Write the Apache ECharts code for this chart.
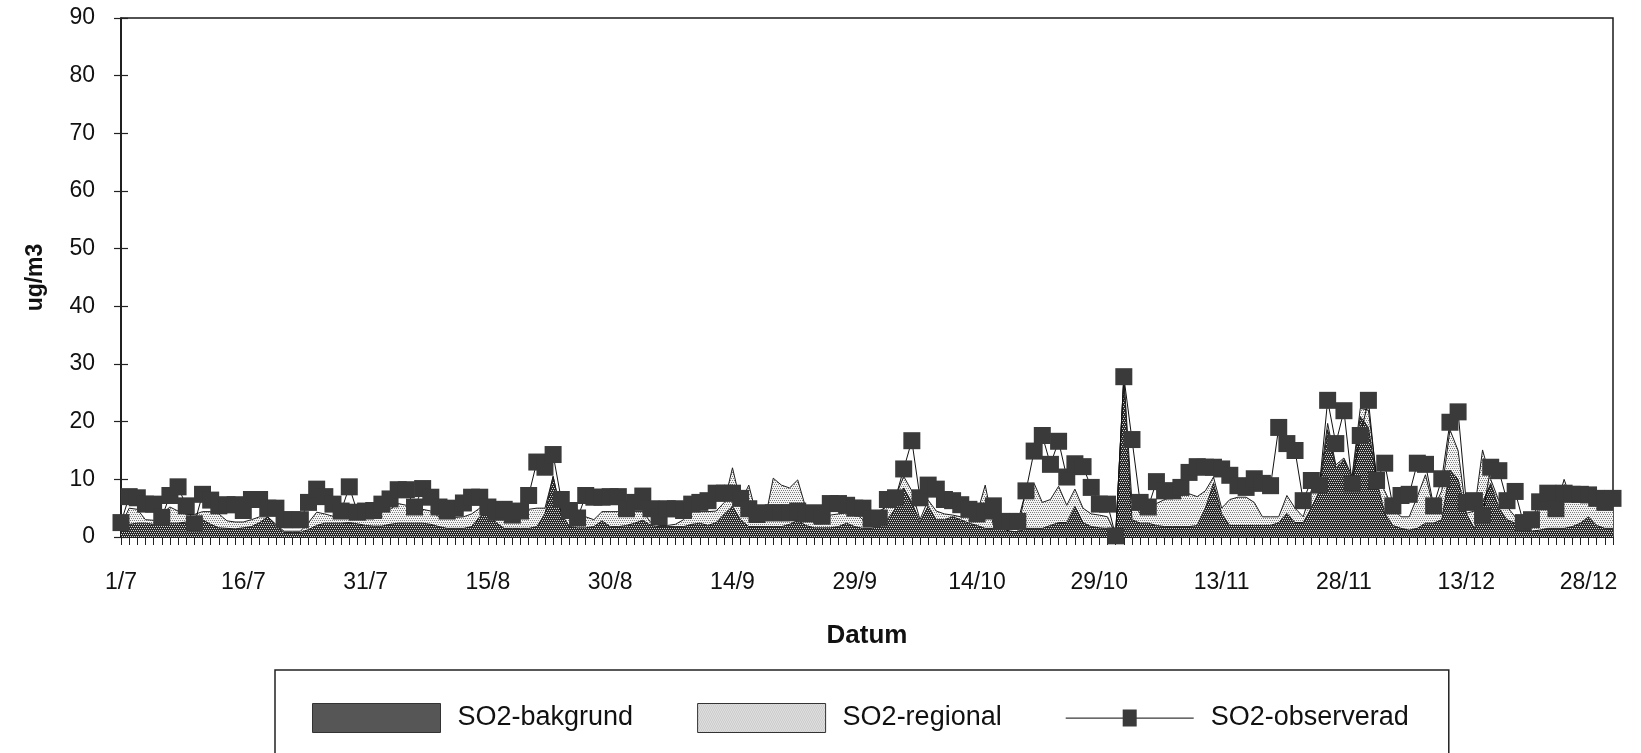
<!DOCTYPE html>
<html>
<head>
<meta charset="utf-8">
<script src="https://cdn.jsdelivr.net/npm/echarts@6/dist/echarts.min.js"></script>
<style>
html,body{margin:0;padding:0;background:#fff;}
#chart{width:1641px;height:753px;}
</style>
</head>
<body>
<div id="chart"></div>
<script>
// ---- data ----
var monthLengths = [[7,31],[8,31],[9,30],[10,31],[11,30],[12,31]];
var categories = [];
monthLengths.forEach(function(m){ for (var d = 1; d <= m[1]; d++) categories.push(d + '/' + m[0]); });

var bakgrund = [
1.5,2.2,2.4,2.4,2.2,2.2,2.4,2.4,2.6,3.5,
3.0,2.2,1.6,1.5,1.4,1.6,1.8,2.5,3.5,2.0,
0.8,0.8,0.8,1.3,2.0,2.4,2.4,2.4,2.5,2.3,
2.0,1.9,1.9,2.2,2.4,2.4,2.4,2.4,2.2,1.8,
1.5,1.5,1.5,1.8,3.5,4.7,2.5,1.5,1.5,1.5,
1.5,1.8,4.0,10.5,4.0,1.8,1.6,1.6,1.8,2.8,
1.8,1.8,2.0,2.4,2.9,2.0,1.8,1.8,1.8,1.8,
2.2,2.4,2.0,2.5,4.0,5.3,3.0,1.8,1.8,1.8,
1.8,1.8,2.2,2.9,2.0,1.6,1.6,1.6,1.8,2.4,
1.8,1.5,1.5,1.8,3.0,5.0,8.5,6.0,2.5,5.3,
3.0,3.0,3.5,3.0,2.4,2.0,1.5,1.5,1.5,1.0,
0.9,1.5,1.5,1.5,2.0,2.5,2.5,5.3,2.5,1.8,
1.6,1.5,0.5,27.5,3.0,2.4,2.4,2.0,1.8,1.8,
1.8,1.8,2.0,5.0,9.3,4.0,2.0,2.0,2.0,2.0,
2.0,2.0,2.5,4.1,2.5,2.5,5.0,8.0,18.6,12.0,
13.4,10.0,20.9,19.0,9.9,4.1,2.0,1.5,1.2,1.5,
2.4,2.4,3.0,11.6,10.0,4.0,1.5,6.0,9.3,5.0,
3.0,2.4,1.2,1.0,1.2,1.5,1.5,1.5,1.8,2.4,
3.5,2.0,1.5,1.5
];

var regional = [
0.5,2.8,2.4,0.6,0.7,1.8,2.8,2.1,1.3,0.4,
1.4,2.2,2.4,1.3,1.2,1.0,1.2,1.0,0.0,0.2,
0.2,0.2,0.2,1.2,2.3,1.6,1.2,0.8,2.0,1.5,
1.5,2.5,2.5,2.6,3.4,3.1,2.6,2.4,2.3,1.7,
1.9,1.9,2.0,2.2,1.5,0.1,0.7,1.5,1.8,2.5,
3.3,3.2,1.0,0.0,0.2,1.7,1.7,1.9,1.2,1.6,
2.6,2.6,2.2,2.0,1.5,0.5,0.2,0.2,0.4,1.2,
2.4,2.0,2.4,2.0,2.0,6.7,3.0,7.2,1.7,1.2,
8.4,7.2,6.3,7.0,3.0,0.7,0.7,2.2,2.2,1.8,
2.4,1.5,1.5,2.7,2.3,2.0,2.0,2.0,0.5,1.1,
1.5,1.0,0.3,0.5,1.1,2.0,7.5,0.5,0.3,0.0,
0.0,7.0,7.8,4.5,4.5,6.3,3.0,3.0,2.5,2.2,
2.2,2.0,0.0,0.3,3.0,1.7,1.7,3.8,4.7,5.2,
5.4,5.7,5.0,3.0,1.1,1.0,4.5,4.9,4.9,4.0,
1.5,1.5,1.0,3.1,2.5,1.0,3.1,1.0,1.1,0.5,
0.3,0.5,1.4,3.0,0.6,3.9,3.0,2.0,2.3,5.5,
8.4,2.6,5.0,7.0,5.0,0.1,3.0,9.1,0.7,1.3,
2.3,1.1,0.6,1.0,4.1,3.8,3.5,8.5,4.2,4.1,
2.5,3.5,4.5,4.0
];

var observerad = [
2.5,7.0,6.8,5.7,5.7,3.4,7.2,8.7,5.4,2.3,
7.4,6.4,5.4,5.6,5.6,4.6,6.5,6.5,5.0,5.0,
3.0,3.0,3.0,6.0,8.3,7.0,5.7,4.5,8.7,4.3,
4.5,4.6,5.7,6.6,8.2,8.2,5.2,8.4,6.9,5.2,
4.5,5.0,5.9,6.9,6.9,5.2,4.3,4.8,3.8,4.5,
7.2,13.0,12.1,14.3,6.5,4.6,3.3,7.2,6.9,6.9,
7.0,7.0,4.9,6.0,7.1,4.9,3.5,4.9,4.9,4.6,
5.7,6.0,6.3,7.6,7.6,7.6,6.7,4.9,3.9,4.2,
4.2,4.2,4.2,4.5,4.0,4.2,3.6,5.8,5.8,5.5,
5.0,5.0,3.1,3.3,6.5,6.8,11.8,16.7,6.8,9.0,
8.3,6.5,6.3,5.6,4.8,4.0,4.5,5.4,2.7,2.7,
2.7,8.0,14.9,17.6,12.6,16.6,10.4,12.7,12.2,8.6,
5.7,5.7,0.2,27.8,16.9,6.0,5.2,9.6,8.0,8.0,
8.6,11.2,12.2,12.1,12.1,11.8,10.7,8.9,8.6,10.1,
9.3,8.9,19.0,16.2,15.0,6.3,9.8,9.0,23.7,16.2,
21.9,9.2,17.6,23.7,9.8,12.8,5.4,7.2,7.4,12.8,
12.6,5.4,10.1,19.9,21.7,6.0,6.3,3.7,12.1,11.5,
6.3,7.9,2.5,3.0,6.1,7.6,4.9,7.6,7.4,7.4,
7.3,6.7,6.0,6.7
];

var seriesNames = ['SO2-bakgrund', 'SO2-regional', 'SO2-observerad'];

// ---- styles ----
function makePattern(bg, fg, cells) {
  var c = document.createElement('canvas');
  c.width = 4; c.height = 4;
  var ctx = c.getContext('2d');
  ctx.fillStyle = bg; ctx.fillRect(0, 0, 4, 4);
  ctx.fillStyle = fg;
  cells.forEach(function(p){ ctx.fillRect(p[0], p[1], 1, 1); });
  return { image: c, repeat: 'repeat' };
}
var darkPattern = makePattern('#2c2c2c', '#d6d6d6', [[0,0],[2,0],[1,2],[3,2]]);
var lightPattern = makePattern('#f4f4f4', '#7c7c7c', [[0,0],[2,0],[1,2],[3,2]]);
var FONT = '"Liberation Sans", Arial, Helvetica, sans-serif';

var chart = echarts.init(document.getElementById('chart'), null, { renderer: 'canvas' });
chart.setOption({
  animation: false,
  backgroundColor: '#ffffff',
  grid: { left: 121, right: 28, top: 18, bottom: 216, show: true, borderColor: '#1a1a1a', borderWidth: 1.5, backgroundColor: 'transparent' },
  legend: {
    left: 275, top: 670, orient: 'horizontal',
    padding: [33, 40, 40, 37],
    itemGap: 64, itemWidth: 128, itemHeight: 29,
    borderColor: '#222', borderWidth: 1.5,
    selectedMode: false,
    textStyle: { fontSize: 27, color: '#111', fontFamily: FONT, padding: [0, 0, 0, 12] },
    data: [
      { name: seriesNames[0], icon: 'rect', itemStyle: { color: darkPattern, borderColor: '#333', borderWidth: 1 } },
      { name: seriesNames[1], icon: 'rect', itemStyle: { color: lightPattern, borderColor: '#333', borderWidth: 1 } },
      { name: seriesNames[2], icon: 'path://M0,0h0.01v0.01h-0.01z M0,28.99h0.01v0.01h-0.01z M0,14h57v1.3H0z M57,6h14v17H57z M71,14h57v1.3H71z', itemStyle: { color: '#3a3a3a' } }
    ]
  },
  xAxis: {
    type: 'category', data: categories, boundaryGap: false,
    axisLine: { lineStyle: { color: '#111', width: 1.5 } },
    axisTick: { show: true, interval: 0, length: 8, lineStyle: { color: '#222', width: 1 } },
    axisLabel: { interval: 14, margin: 34, fontSize: 23, color: '#111', fontFamily: FONT },
    splitLine: { show: false },
    name: 'Datum', nameLocation: 'middle', nameGap: 86,
    nameTextStyle: { fontSize: 26, fontWeight: 'bold', color: '#111', fontFamily: FONT }
  },
  yAxis: [{
    type: 'value', min: 0, max: 90, interval: 10,
    axisLine: { show: true, lineStyle: { color: '#111', width: 1.5 } },
    axisTick: { show: true, length: 7, lineStyle: { color: '#222', width: 1.2 } },
    axisLabel: { margin: 26, fontSize: 23, color: '#111', fontFamily: FONT },
    splitLine: { show: false },
    name: 'ug/m3', nameLocation: 'middle', nameGap: 74, nameRotate: 90,
    nameTextStyle: { fontSize: 23, fontWeight: 'bold', color: '#111', fontFamily: FONT }
  }, {
    type: 'value', min: 0, max: 90, interval: 10, position: 'left',
    axisLine: { show: false },
    axisTick: { show: true, inside: true, length: 7, lineStyle: { color: '#222', width: 1.2 } },
    axisLabel: { show: false },
    splitLine: { show: false }
  }],
  series: [
    {
      name: seriesNames[0], type: 'line', stack: 'so2', data: bakgrund,
      symbol: 'none', smooth: false, z: 2,
      itemStyle: { color: '#444' },
      lineStyle: { color: '#1e1e1e', width: 1 },
      areaStyle: { color: darkPattern, opacity: 1 }
    },
    {
      name: seriesNames[1], type: 'line', stack: 'so2', data: regional,
      symbol: 'none', smooth: false, z: 2,
      itemStyle: { color: '#ccc' },
      lineStyle: { color: '#1e1e1e', width: 1 },
      areaStyle: { color: lightPattern, opacity: 1 }
    },
    {
      name: seriesNames[2], type: 'line', data: observerad,
      symbol: 'rect', symbolSize: 17, showAllSymbol: true, z: 3,
      itemStyle: { color: '#3a3a3a' },
      lineStyle: { color: '#111', width: 1 }
    }
  ]
});
</script>
</body>
</html>
